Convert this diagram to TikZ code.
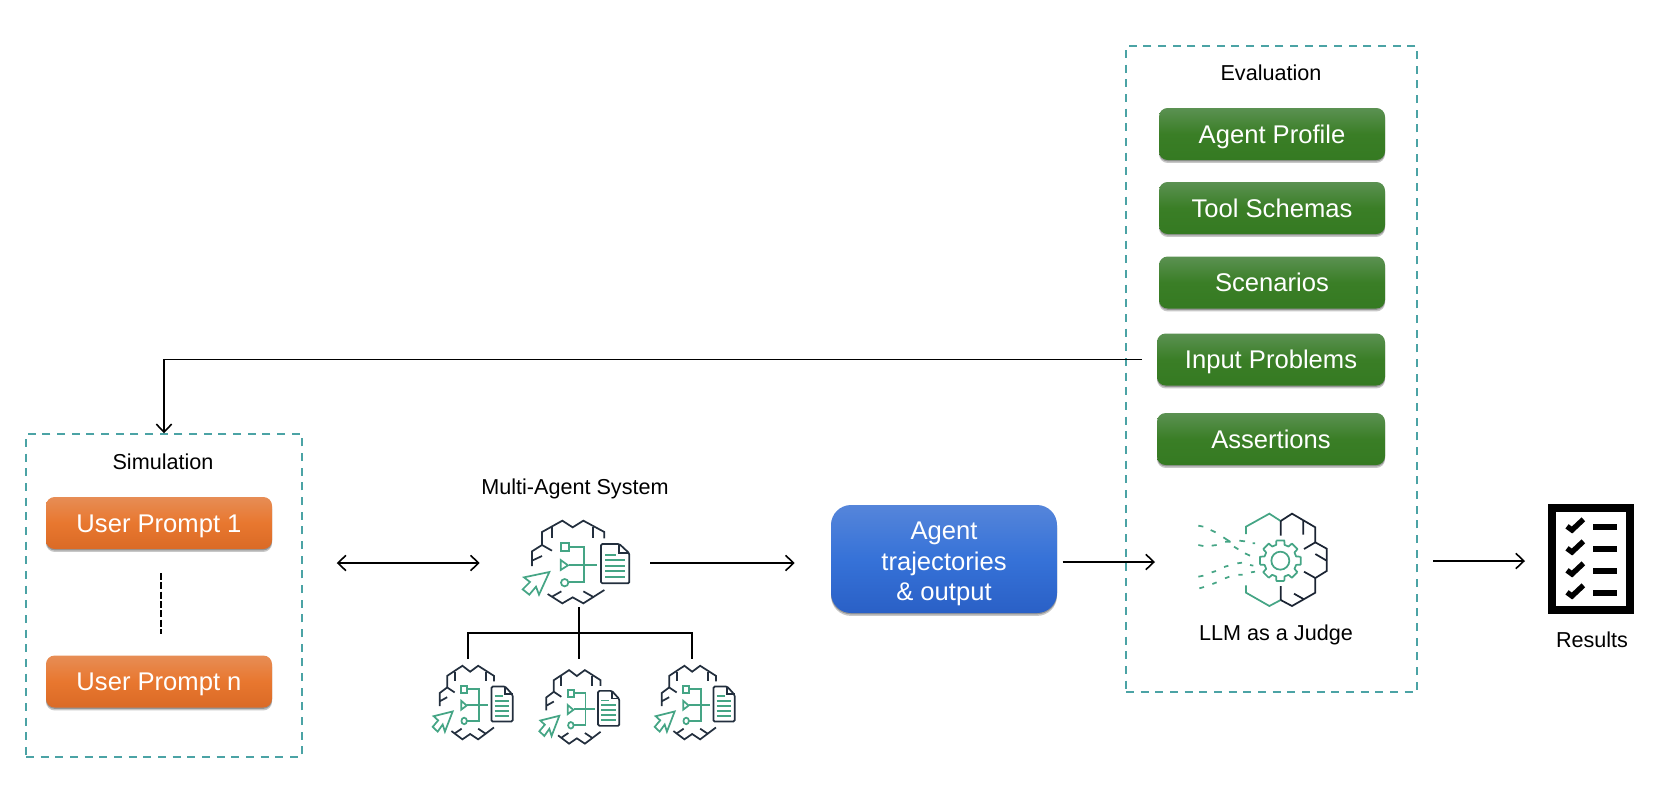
\documentclass[tikz,border=0pt]{standalone}
\usepackage{fontspec}
\setmainfont{Liberation Sans}
\usetikzlibrary{arrows.meta,shadows,calc}
\definecolor{teal1}{HTML}{4BA3A5}
\definecolor{icongreen}{HTML}{45A585}
\definecolor{icondark}{HTML}{232F3E}
\definecolor{darkink}{HTML}{1B2433}
\definecolor{orangeT}{HTML}{E78D55}
\definecolor{orangeM}{HTML}{E8772F}
\definecolor{orangeB}{HTML}{DA6A26}
\definecolor{greenT}{HTML}{5B9152}
\definecolor{greenM}{HTML}{3A7E26}
\definecolor{greenB}{HTML}{357A22}
\definecolor{blueT}{HTML}{5585DA}
\definecolor{blueM}{HTML}{3672D8}
\definecolor{blueB}{HTML}{2A60C6}
\tikzset{
  conn/.style={line width=1.2pt,draw=black},
  tipone/.style={-{Straight Barb[length=6pt,width=11.5pt,line width=1.2pt]}},
  tiptwo/.style={{Straight Barb[length=6pt,width=11.5pt,line width=1.2pt]}-{Straight Barb[length=6pt,width=11.5pt,line width=1.2pt]}},
  groupbox/.style={draw=teal1,line width=1.1pt,dash pattern=on 6pt off 5pt,inner sep=0pt,fill=none},
  caption/.style={font=\fontsize{16.2}{19}\selectfont,inner sep=0pt,anchor=base,text=black},
  pillshadow/.style={drop shadow={shadow xshift=0pt,shadow yshift=-1pt,opacity=.25,fill=black},
    drop shadow={shadow xshift=0pt,shadow yshift=-2.2pt,opacity=.22,fill=black}},
  pill/.style={pillshadow,rounded corners=6.5pt,inner sep=0pt,text=white,
    font=\fontsize{19.2}{23}\selectfont},
  orangebox/.style={pill,text height=13.5pt,text depth=0pt,minimum width=169.5pt,minimum height=39pt,top color=orangeT,bottom color=orangeB,middle color=orangeM},
  greenbox/.style={pill,text height=13.5pt,text depth=0pt,minimum width=169.5pt,minimum height=39pt,top color=greenT,bottom color=greenB,middle color=greenM},
  bluebox/.style={pill,rounded corners=15pt,minimum width=169.5pt,minimum height=81pt,align=center,top color=blueT,bottom color=blueB,middle color=blueM},
  icong/.style={draw=icongreen,line width=1.3pt,line join=miter},
  icond/.style={draw=icondark,line width=1.3pt,line join=miter},
  blind/.style={inner sep=0pt,draw=none,fill=none},
}
% brain icon traced in zoom pixels (3x)
\newcommand{\brainicon}[4]{%
\begin{scope}[shift={({470+(#1)/3},{470+(#2)/3})},xscale=#3/3,yscale=#4/3]
 \draw[icond] (216,225)--(216,186)--(277,152)--(308,172)--(340,152)--(403,186)--(403,205);
 \draw[icond] (246,172)--(246,205) (370,172)--(370,205);
 \draw[icond] (246,242)--(216,225)--(186,244)--(186,288) (186,272)--(216,258);
 \draw[icond] (233,372)--(277,400)--(308,382)--(340,400)--(403,360);
 \draw[icond] (246,380)--(274,364) (340,364)--(372,382);
 \draw[icong] (272,220) rectangle (296,243);
 \draw[icong] (296,230)--(343,230)--(343,337)--(296,337);
 \draw[icong] (272,270)--(294,286)--(272,300)--cycle;
 \draw[icong] (296,284)--(380,284);
 \draw[icong] (284,338) circle (11);
 \draw[icong] (238,306)--(162,322)--(180,336)--(158,358)--(178,374)--(198,350)--(207,374)--cycle;
 \draw[icond,rounded corners=1pt] (448,222)--(393,222)--(393,340)--(478,340)--(478,250)--cycle;
 \draw[icond] (448,222)--(448,248)--(478,248);
 \draw[icong] (406,254)--(438,254) (406,270)--(465,270) (406,287)--(465,287) (406,304)--(465,304) (406,321)--(465,321);
\end{scope}}
\begin{document}
\begin{tikzpicture}[x=0.75pt,y=-0.75pt]
\useasboundingbox (0,0) rectangle (1662,790);
% group boxes
\node[groupbox,minimum width=207pt,minimum height=242.25pt] (simbox) at (164,595.5) {};
\node[groupbox,minimum width=218.25pt,minimum height=484.5pt] (evalbox) at (1271.5,369) {};
\node[caption] (simcap) at (163,469) {Simulation};
\node[caption] (evalcap) at (1271,80.7) {Evaluation};
\node[caption] (mascap) at (575,494) {Multi-Agent System};
\node[caption] (llmcap) at (1276,640.5) {LLM as a Judge};
\node[caption] (rescap) at (1592,647) {Results};
% boxes
\node[orangebox] (up1) at (159,523) {User Prompt 1};
\node[orangebox] (upn) at (159,681.5) {User Prompt n};
\node[greenbox] (g1) at (1272,134) {Agent Profile};
\node[greenbox] (g2) at (1272,208) {Tool Schemas};
\node[greenbox] (g3) at (1272,282.5) {Scenarios};
\node[greenbox,minimum width=171pt] (g4) at (1271,359.5) {Input Problems};
\node[greenbox,minimum width=171pt] (g5) at (1271,439) {Assertions};
\node[bluebox] (blue) at (944,559) {\rule{0pt}{20.5pt}Agent\\trajectories\\\&\ output};
% anchors of the icons
\node[blind,minimum width=127.5pt,minimum height=66pt] (brain) at (565,563) {};
\coordinate (treeTop) at (579,607);
\coordinate (treeBus) at (579,633);
\coordinate (t1) at (468,659);
\coordinate (t2) at (579,659);
\coordinate (t3) at (692,659);
\coordinate (judgeIn) at (1155,562);
\coordinate (judgeOut) at (1433,561);
\coordinate (resIn) at (1525,561);
\coordinate (dashTop) at (161,573);
\coordinate (dashBot) at (161,634);
% connectors
\draw[conn,tipone,shorten <=11pt] (g4.west) -| (simbox.north);
\draw[conn,tiptwo,shorten <=25.5pt] (simbox.east |- brain.west) -- (brain.west);
\draw[conn,tipone,shorten >=27pt] (brain.east) -- (blue.west |- brain.east);
\draw[conn,tipone,shorten <=4pt] (blue.east |- judgeIn) -- (judgeIn);
\draw[conn,tipone] (judgeOut) -- (resIn);
\draw[conn] (treeTop) -- (t2);
\draw[conn] (t1) |- (treeBus) -| (t3);
\draw[line width=1.4pt,dash pattern=on 5.2pt off 1.8pt,draw=black] (dashTop) -- (dashBot);
% icons
\brainicon{0}{0}{1}{1}
\brainicon{-230.5}{452}{.75}{.89}
\brainicon{89.5}{465}{.75}{.89}
\brainicon{435.5}{452}{.75}{.89}
% judge icon
\begin{scope}[shift={(1170,490)},x=0.25pt,y=-0.25pt]
 \draw[icong] (228,132)--(228,110)--(298,71)--(332,93);
 \draw[icong] (332,330)--(298,348)--(228,308)--(228,286);
 \draw[icond,draw=darkink] (332,93)--(366,71)--(436,112)--(436,157)--(470,176)--(470,243)--(436,264)--(436,308)--(366,348)--(332,330);
 \draw[icond,draw=darkink] (332,93)--(332,137) (332,288)--(332,330) (400,92)--(400,134) (436,157)--(402,177) (436,192)--(470,212) (402,245)--(436,264) (372,311)--(402,328);
 \draw[icong] (331,212) circle (27);
 \begin{scope}[shift={(331,212)}]
  \foreach \a in {0,45,...,315}{
   \draw[icong,line join=round] ({\a-11}:62)--({\a+11}:62)--({\a+15}:49)--({\a+30}:49)--({\a+34}:62);
  }
 \end{scope}
 \draw[icong] (85,107)--(100,110) (122,120)--(137,127) (160,142)--(180,155) (192,170)--(205,178) (225,190)--(240,197);
 \draw[icong] (85,165)--(100,168) (125,167)--(140,165) (165,155)--(182,155) (208,152)--(225,154) (248,160)--(255,160);
 \draw[icong] (85,260)--(100,257) (125,247)--(138,243) (162,231)--(175,227) (202,220)--(216,218) (240,225)--(250,227);
 \draw[icong] (88,295)--(102,291) (127,282)--(140,277) (165,265)--(178,260) (205,254)--(218,254) (243,247)--(255,245);
\end{scope}
% results icon
\begin{scope}[shift={(1520,490)},x=0.25pt,y=-0.25pt]
 \draw[line width=6pt,draw=black] (96.5,55) rectangle (328.5,360);
 \foreach \r in {111,177,243,309}{
  \draw[line width=4pt,draw=black] (141,\r-2)--(156,\r+9)--(190,\r-23);
  \draw[line width=3.8pt,draw=black] (220,\r)--(292,\r);
 }
\end{scope}
\end{tikzpicture}
\end{document}
